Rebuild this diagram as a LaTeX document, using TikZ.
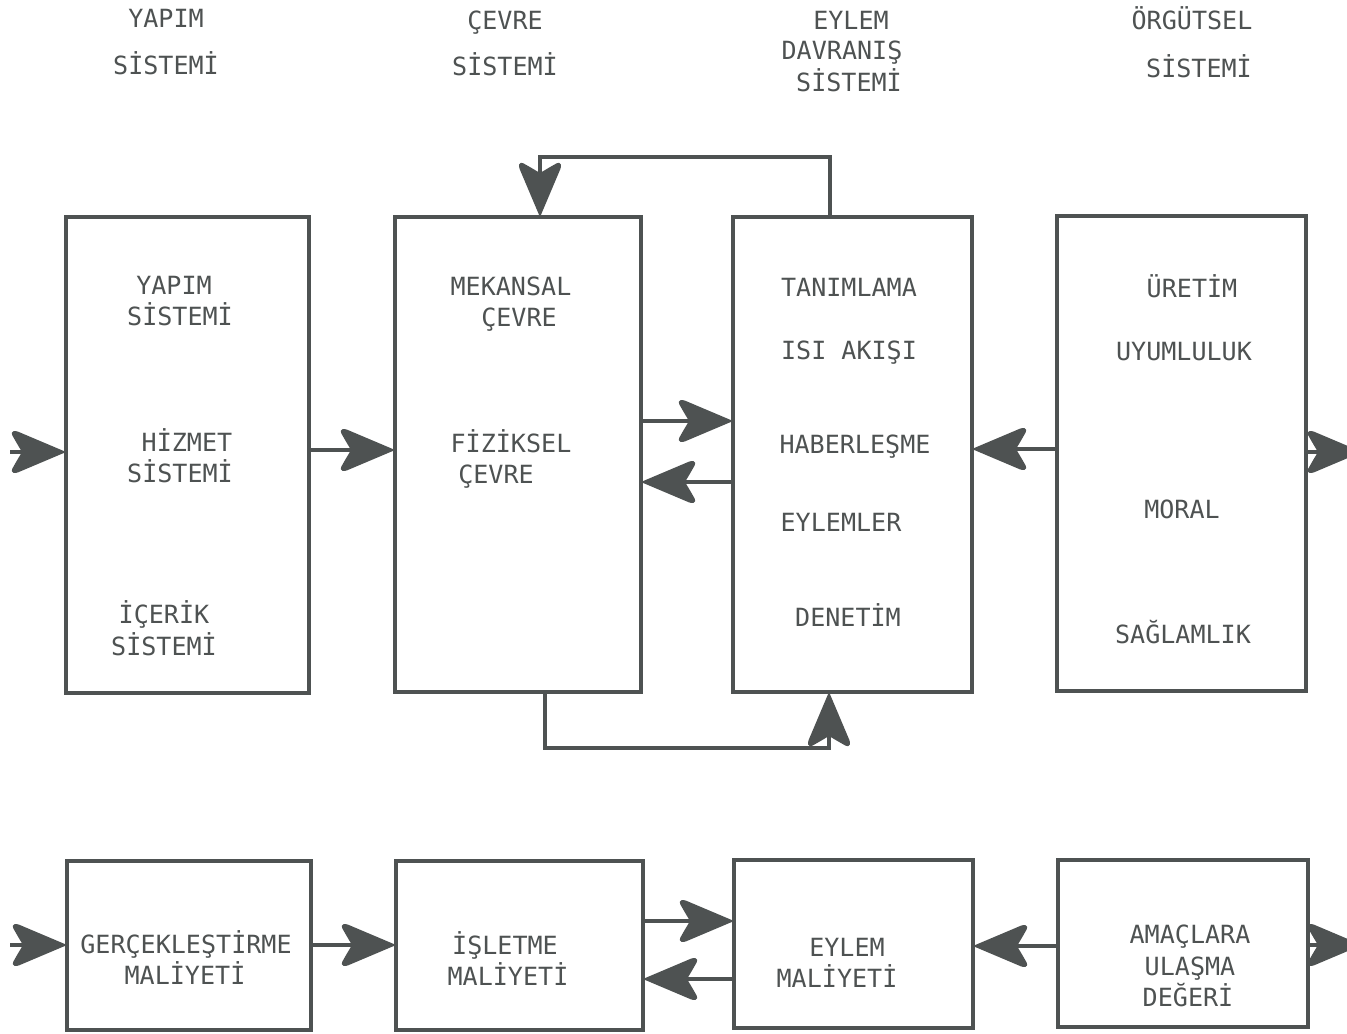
\documentclass[tikz,border=0pt]{standalone}
\usepackage{fontspec}
\newfontfamily\tw{DejaVu Sans Mono}
\usetikzlibrary{arrows.meta}
\definecolor{ink}{RGB}{78,82,82}
\pgfdeclarearrow{
  name=Barb,
  setup code={
    \pgfarrowssettipend{0pt}
    \pgfarrowssetlineend{-26pt}
    \pgfarrowssetvisualbackend{-38pt}
    \pgfarrowssetbackend{-38pt}
    \pgfarrowshullpoint{0pt}{0pt}
    \pgfarrowshullpoint{-39pt}{16pt}
    \pgfarrowshullpoint{-39pt}{-16pt}
  },
  drawing code={
    \pgfsetfillcolor{ink}
    \pgfsetstrokecolor{ink}
    \pgfsetlinewidth{1.2pt}
    \pgfsetroundjoin
    \pgfpathmoveto{\pgfpoint{0pt}{0pt}}
    \pgfpathlineto{\pgfpoint{-34.5pt}{14.6pt}}
    \pgfpathcurveto{\pgfpoint{-37pt}{15.7pt}}{\pgfpoint{-39.5pt}{15.2pt}}{\pgfpoint{-38.3pt}{12.8pt}}
    \pgfpathcurveto{\pgfpoint{-37pt}{10.5pt}}{\pgfpoint{-34.5pt}{6pt}}{\pgfpoint{-32.3pt}{2.5pt}}
    \pgfpathcurveto{\pgfpoint{-31.8pt}{1.5pt}}{\pgfpoint{-31.5pt}{0.5pt}}{\pgfpoint{-31.5pt}{0pt}}
    \pgfpathcurveto{\pgfpoint{-31.5pt}{-0.5pt}}{\pgfpoint{-31.8pt}{-1.5pt}}{\pgfpoint{-32.3pt}{-2.5pt}}
    \pgfpathcurveto{\pgfpoint{-34.5pt}{-6pt}}{\pgfpoint{-37pt}{-10.5pt}}{\pgfpoint{-38.3pt}{-12.8pt}}
    \pgfpathcurveto{\pgfpoint{-39.5pt}{-15.2pt}}{\pgfpoint{-37pt}{-15.7pt}}{\pgfpoint{-34.5pt}{-14.6pt}}
    \pgfpathclose
    \pgfusepathqfillstroke
  }
}
\tikzset{
  >={Barb},
  box/.style={draw=ink, line width=2.9pt, inner sep=0pt, rectangle},
  con/.style={draw=ink, line width=2.9pt, ->},
  lbl/.style={text=ink, font=\tw\fontsize{18.8}{20}\selectfont, inner sep=0pt, text height=13.7pt, text depth=0pt, anchor=center}
}
\begin{document}
\begin{tikzpicture}[x=0.75pt,y=-0.75pt]
\useasboundingbox (0,0) rectangle (1347,1033);
\clip (0,0) rectangle (1347,1033);
% titles
\node[lbl] (h1a) at (166,18) {YAPIM};
\node[lbl] (h1b) at (166,65) {SİSTEMİ};
\node[lbl] (h2a) at (505,20) {ÇEVRE};
\node[lbl] (h2b) at (505,66) {SİSTEMİ};
\node[lbl] (h3a) at (851,20) {EYLEM};
\node[lbl] (h3b) at (842,50) {DAVRANIŞ};
\node[lbl] (h3c) at (849,82) {SİSTEMİ};
\node[lbl] (h4a) at (1192,20) {ÖRGÜTSEL};
\node[lbl] (h4b) at (1199,68) {SİSTEMİ};
% top boxes
\node[box, minimum width=243*0.75pt, minimum height=476*0.75pt] (t1) at (187.5,455) {};
\node[box, minimum width=246*0.75pt, minimum height=475*0.75pt] (t2) at (518,454.5) {};
\node[box, minimum width=239*0.75pt, minimum height=475*0.75pt] (t3) at (852.5,454.5) {};
\node[box, minimum width=249*0.75pt, minimum height=475*0.75pt] (t4) at (1181.5,453.5) {};
% bottom boxes
\node[box, minimum width=244*0.75pt, minimum height=169*0.75pt] (b1) at (189,945.5) {};
\node[box, minimum width=247*0.75pt, minimum height=169*0.75pt] (b2) at (519.5,945.5) {};
\node[box, minimum width=239*0.75pt, minimum height=168*0.75pt] (b3) at (853.5,944) {};
\node[box, minimum width=250*0.75pt, minimum height=167*0.75pt] (b4) at (1183,943.5) {};
% box texts
\node[lbl] (t1a) at (174,285) {YAPIM};
\node[lbl] (t1b) at (180,316) {SİSTEMİ};
\node[lbl] (t1c) at (187,442) {HİZMET};
\node[lbl] (t1d) at (180,473) {SİSTEMİ};
\node[lbl] (t1e) at (164,614) {İÇERİK};
\node[lbl] (t1f) at (164,646) {SİSTEMİ};
\node[lbl] (t2a) at (511,286) {MEKANSAL};
\node[lbl] (t2b) at (519,317) {ÇEVRE};
\node[lbl] (t2c) at (511,443) {FİZİKSEL};
\node[lbl] (t2d) at (496,474) {ÇEVRE};
\node[lbl] (t3a) at (849,287) {TANIMLAMA};
\node[lbl] (t3b) at (849,350) {ISI AKIŞI};
\node[lbl] (t3c) at (855,444) {HABERLEŞME};
\node[lbl] (t3d) at (841,522) {EYLEMLER};
\node[lbl] (t3e) at (848,617) {DENETİM};
\node[lbl] (t4a) at (1192,288) {ÜRETİM};
\node[lbl] (t4b) at (1184,351) {UYUMLULUK};
\node[lbl] (t4c) at (1182,509) {MORAL};
\node[lbl] (t4d) at (1183,634) {SAĞLAMLIK};
\node[lbl] (b1a) at (186,944) {GERÇEKLEŞTİRME};
\node[lbl] (b1b) at (185,975) {MALİYETİ};
\node[lbl] (b2a) at (505,945) {İŞLETME};
\node[lbl] (b2b) at (508,976) {MALİYETİ};
\node[lbl] (b3a) at (847,947) {EYLEM};
\node[lbl] (b3b) at (837,978) {MALİYETİ};
\node[lbl] (b4a) at (1190,934) {AMAÇLARA};
\node[lbl] (b4b) at (1190,966) {ULAŞMA};
\node[lbl] (b4c) at (1188,997) {DEĞERİ};
% helper coordinates
\coordinate (inT) at (10,452);
\coordinate (outT) at (1360,452);
\coordinate (inB) at (10,945);
\coordinate (outB) at (1360,945);
\coordinate (y450) at (0,450);
\coordinate (y421) at (0,421);
\coordinate (y482) at (0,482);
\coordinate (y449) at (0,449);
\coordinate (y452) at (0,452);
\coordinate (y945) at (0,945);
\coordinate (y921) at (0,921);
\coordinate (y979) at (0,979);
\coordinate (y946) at (0,946);
\coordinate (xa) at (830,0);
\coordinate (xb) at (540,0);
\coordinate (xc) at (545,0);
\coordinate (xd) at (829,0);
\coordinate (topc) at (540,157);
\coordinate (botc) at (829,748);
% top connectors
\draw[con] (inT) -- (t1.west |- inT);
\draw[con] (t1.east |- y450) -- (t2.west |- y450);
\draw[con] (t2.east |- y421) -- (t3.west |- y421);
\draw[con] (t3.west |- y482) -- (t2.east |- y482);
\draw[con] (t4.west |- y449) -- (t3.east |- y449);
\draw[con] (t4.east |- y452) -- (outT);
\draw[con] (t3.north -| xa) |- (topc) -- (t2.north -| xb);
\draw[con] (t2.south -| xc) |- (botc) -- (t3.south -| xd);
% bottom connectors
\draw[con] (inB) -- (b1.west |- inB);
\draw[con] (b1.east |- y945) -- (b2.west |- y945);
\draw[con] (b2.east |- y921) -- (b3.west |- y921);
\draw[con] (b3.west |- y979) -- (b2.east |- y979);
\draw[con] (b4.west |- y946) -- (b3.east |- y946);
\draw[con] (b4.east |- y945) -- (outB);
\end{tikzpicture}
\end{document}
